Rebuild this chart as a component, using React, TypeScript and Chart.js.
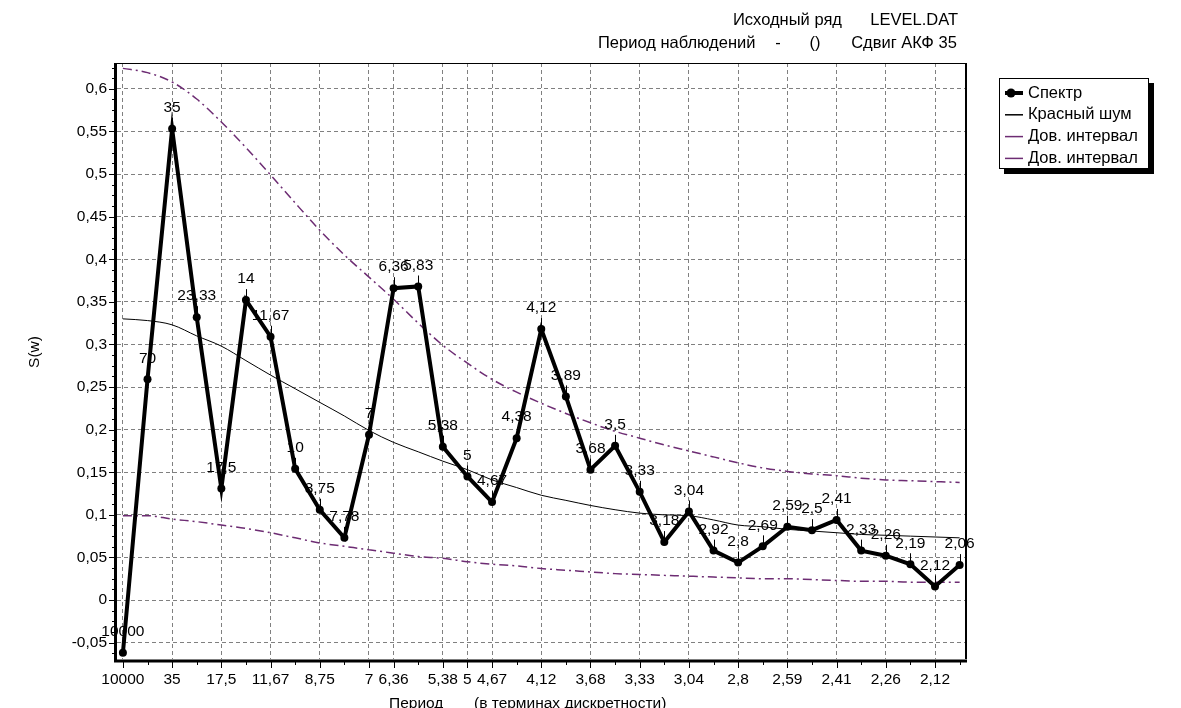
import { useEffect, useRef } from 'react';
import { Chart, registerables } from 'chart.js';

Chart.register(...registerables);

// Periods (in sampling steps) for each spectral estimate, k = 0..34
const periods = [
  '10000', '70', '35', '23,33', '17,5', '14', '11,67', '10', '8,75', '7,78',
  '7', '6,36', '5,83', '5,38', '5', '4,67', '4,38', '4,12', '3,89', '3,68',
  '3,5', '3,33', '3,18', '3,04', '2,92', '2,8', '2,69', '2,59', '2,5', '2,41',
  '2,33', '2,26', '2,19', '2,12', '2,06',
];

// Indices of the periods that get a label and a grid line on the x axis
const labeledTicks = [0, 2, 4, 6, 8, 10, 11, 13, 14, 15, 17, 19, 21, 23, 25, 27, 29, 31, 33];

// Spectral density S(w)
const spectrum = [
  -0.062, 0.259, 0.553, 0.332, 0.131, 0.352, 0.309, 0.154, 0.106, 0.073,
  0.194, 0.366, 0.368, 0.180, 0.145, 0.115, 0.190, 0.318, 0.239, 0.153,
  0.181, 0.127, 0.068, 0.104, 0.058, 0.044, 0.063, 0.086, 0.082, 0.094,
  0.058, 0.052, 0.042, 0.016, 0.041,
];

// Red-noise reference spectrum
const redNoise = [
  0.330, 0.328, 0.323, 0.310, 0.298, 0.281, 0.264, 0.248, 0.232, 0.216,
  0.199, 0.185, 0.174, 0.163, 0.153, 0.141, 0.132, 0.123, 0.117, 0.111,
  0.106, 0.102, 0.100, 0.099, 0.094, 0.088, 0.086, 0.083, 0.081, 0.079,
  0.077, 0.076, 0.075, 0.074, 0.073,
];

// Confidence interval bounds
const upperBound = [
  0.624, 0.619, 0.608, 0.588, 0.561, 0.531, 0.499, 0.466, 0.434, 0.405,
  0.379, 0.353, 0.325, 0.299, 0.278, 0.259, 0.244, 0.231, 0.219, 0.208,
  0.198, 0.190, 0.182, 0.175, 0.168, 0.161, 0.155, 0.151, 0.148, 0.146,
  0.143, 0.141, 0.140, 0.139, 0.138,
];
const lowerBound = [
  0.099, 0.099, 0.095, 0.092, 0.088, 0.084, 0.079, 0.073, 0.067, 0.063,
  0.059, 0.055, 0.051, 0.049, 0.045, 0.042, 0.040, 0.037, 0.035, 0.033,
  0.031, 0.030, 0.029, 0.028, 0.027, 0.026, 0.025, 0.025, 0.024, 0.023,
  0.022, 0.022, 0.021, 0.021, 0.021,
];

const yTicks = [-0.05, 0, 0.05, 0.1, 0.15, 0.2, 0.25, 0.3, 0.35, 0.4, 0.45, 0.5, 0.55, 0.6];

const legendLabels = ['Спектр', 'Красный шум', 'Дов. интервал', 'Дов. интервал'];
const headerLine1 = ['Исходный ряд', 'LEVEL.DAT'];
const headerLine2 = ['Период наблюдений', '-', '()', 'Сдвиг АКФ 35'];
const yTitle = 'S(w)';
const xTitle = ['Период', '(в терминах дискретности)'];

const FONT_FAMILY = "'Liberation Sans', Arial, sans-serif";
const FONT_SIZE = 15.5;
const FONT = `${FONT_SIZE}px ${FONT_FAMILY}`;
const TEXT_FONT = `16.5px ${FONT_FAMILY}`;
const GRID = '#808080';
const PURPLE = '#6d2c73';

const fmt = (v: number) =>
  Number(v).toFixed(2).replace(/0+$/, '').replace(/\.$/, '').replace('.', ',');

const toPoints = (arr: number[]) => arr.map((y, i) => ({ x: i, y }));

const decorPlugin = {
  id: 'decor',
  afterDatasetsDraw(chart: any) {
    const { ctx } = chart;
    const meta = chart.getDatasetMeta(0);
    ctx.save();
    ctx.font = FONT;
    ctx.fillStyle = '#000';
    ctx.strokeStyle = '#000';
    ctx.lineWidth = 1;
    ctx.textAlign = 'center';
    ctx.textBaseline = 'middle';
    meta.data.forEach((pt: any, i: number) => {
      const { x, y } = pt.getProps(['x', 'y'], true);
      ctx.beginPath();
      ctx.moveTo(Math.round(x) + 0.5, y);
      ctx.lineTo(Math.round(x) + 0.5, y - 11);
      ctx.stroke();
      ctx.fillText(periods[i], x, y - 21);
    });
    ctx.restore();
  },
  afterDraw(chart: any) {
    const { ctx, chartArea: a, scales } = chart;
    const xs = scales.x;
    const ys = scales.y;
    ctx.save();

    // plot frame
    ctx.strokeStyle = '#000';
    ctx.lineWidth = 1;
    ctx.beginPath();
    ctx.moveTo(a.left, a.top + 0.5);
    ctx.lineTo(a.right, a.top + 0.5);
    ctx.stroke();
    ctx.lineWidth = 2;
    ctx.beginPath();
    ctx.moveTo(a.right - 1, a.top);
    ctx.lineTo(a.right - 1, a.bottom);
    ctx.stroke();
    ctx.lineWidth = 3;
    ctx.beginPath();
    ctx.moveTo(a.left - 1.5, a.top);
    ctx.lineTo(a.left - 1.5, a.bottom + 2);
    ctx.lineTo(a.right, a.bottom + 2);
    ctx.stroke();

    // x tick marks: long at labelled periods, short elsewhere
    ctx.lineWidth = 1;
    for (let i = 0; i < periods.length; i++) {
      const px = Math.round(xs.getPixelForValue(i)) + 0.5;
      const len = labeledTicks.includes(i) ? 6 : 3;
      ctx.beginPath();
      ctx.moveTo(px, a.bottom + 3);
      ctx.lineTo(px, a.bottom + 3 + len);
      ctx.stroke();
    }
    // y tick marks: major every 0.05, three minor between
    for (let k = -5; k <= 50; k++) {
      const v = k * 0.0125;
      const py = ys.getPixelForValue(v);
      if (py < a.top + 1 || py > a.bottom - 1) continue;
      const len = k % 4 === 0 ? 5 : 2;
      const yy = Math.round(py) + 0.5;
      ctx.beginPath();
      ctx.moveTo(a.left - 3, yy);
      ctx.lineTo(a.left - 3 - len, yy);
      ctx.stroke();
    }

    ctx.fillStyle = '#000';
    ctx.textBaseline = 'middle';

    // header
    ctx.font = TEXT_FONT;
    ctx.textAlign = 'left';
    ctx.fillText(headerLine1[0], 733, 20);
    ctx.textAlign = 'right';
    ctx.fillText(headerLine1[1], 958, 20);
    ctx.textAlign = 'left';
    ctx.fillText(headerLine2[0], 598, 43);
    ctx.textAlign = 'center';
    ctx.fillText(headerLine2[1], 778, 43);
    ctx.fillText(headerLine2[2], 815, 43);
    ctx.fillText(headerLine2[3], 904, 43);

    // axis titles
    ctx.font = FONT;
    ctx.textAlign = 'left';
    ctx.fillText(xTitle[0], 389, 704);
    ctx.fillText(xTitle[1], 474, 704);
    ctx.save();
    ctx.translate(35, 352);
    ctx.rotate(-Math.PI / 2);
    ctx.textAlign = 'center';
    ctx.fillText(yTitle, 0, 0);
    ctx.restore();

    // legend box with shadow
    const lx = 999, ly = 78, lw = 149, lh = 90;
    ctx.fillStyle = '#000';
    ctx.fillRect(lx + 5, ly + 5, lw + 1, lh + 1);
    ctx.fillStyle = '#fff';
    ctx.fillRect(lx, ly, lw, lh);
    ctx.strokeStyle = '#000';
    ctx.lineWidth = 1;
    ctx.strokeRect(lx + 0.5, ly + 0.5, lw, lh);

    ctx.font = TEXT_FONT;
    const colors = ['#000', '#000', PURPLE, PURPLE];
    legendLabels.forEach((label, i) => {
      const cy = 93 + i * 21.8;
      ctx.strokeStyle = colors[i];
      ctx.lineWidth = i === 0 ? 4 : 1.5;
      ctx.beginPath();
      ctx.moveTo(1005, cy);
      ctx.lineTo(1023, cy);
      ctx.stroke();
      if (i === 0) {
        ctx.fillStyle = '#000';
        ctx.beginPath();
        ctx.arc(1011, cy, 4.5, 0, Math.PI * 2);
        ctx.fill();
      }
      ctx.fillStyle = '#000';
      ctx.textAlign = 'left';
      ctx.fillText(label, 1028, cy);
    });

    ctx.restore();
  },
};

export default function App() {
  const ref = useRef<HTMLCanvasElement>(null);

  useEffect(() => {
    const canvas = ref.current;
    if (!canvas) return;
    const tickFont = { family: FONT_FAMILY, size: FONT_SIZE };
    const chart = new Chart(canvas, {
      type: 'line',
      data: {
        datasets: [
          {
            label: legendLabels[0],
            data: toPoints(spectrum),
            borderColor: '#000',
            backgroundColor: '#000',
            borderWidth: 4,
            pointRadius: 4,
            pointBorderWidth: 0,
            pointBackgroundColor: '#000',
            tension: 0,
          },
          {
            label: legendLabels[1],
            data: toPoints(redNoise),
            borderColor: '#000',
            borderWidth: 1,
            pointRadius: 0,
            cubicInterpolationMode: 'monotone',
          },
          {
            label: legendLabels[2],
            data: toPoints(upperBound),
            borderColor: PURPLE,
            borderWidth: 1.5,
            borderDash: [9, 4, 2, 4],
            pointRadius: 0,
            cubicInterpolationMode: 'monotone',
          },
          {
            label: legendLabels[3],
            data: toPoints(lowerBound),
            borderColor: PURPLE,
            borderWidth: 1.5,
            borderDash: [9, 4, 2, 4],
            pointRadius: 0,
            cubicInterpolationMode: 'monotone',
          },
        ],
      },
      options: {
        responsive: false,
        animation: false,
        devicePixelRatio: 1,
        layout: { padding: { left: 0, top: 63, right: 214, bottom: 0 } },
        plugins: {
          legend: { display: false },
          title: { display: false },
          tooltip: { enabled: false },
        },
        scales: {
          x: {
            type: 'linear',
            position: 'bottom',
            min: -0.24,
            max: 34.3,
            afterFit: (s: any) => {
              s.height = 49;
            },
            afterBuildTicks: (s: any) => {
              s.ticks = periods.map((_, i) => ({ value: i }));
            },
            border: { display: false, dash: [4, 3] },
            grid: {
              drawTicks: false,
              color: (c: any) =>
                c.tick && labeledTicks.includes(c.tick.value) ? GRID : 'rgba(0,0,0,0)',
              lineWidth: 1,
            },
            ticks: {
              autoSkip: false,
              maxRotation: 0,
              minRotation: 0,
              padding: 11,
              color: '#000',
              font: tickFont,
              callback: (v: any) => {
                const i = Math.round(Number(v));
                return labeledTicks.includes(i) ? periods[i] : '';
              },
            },
          },
          y: {
            type: 'linear',
            min: -0.0692,
            max: 0.6303,
            afterFit: (s: any) => {
              s.width = 117;
            },
            afterBuildTicks: (s: any) => {
              s.ticks = yTicks.map((v) => ({ value: v }));
            },
            border: { display: false, dash: [4, 3] },
            grid: {
              drawTicks: false,
              color: GRID,
              lineWidth: 1,
            },
            ticks: {
              padding: 10,
              color: '#000',
              font: tickFont,
              callback: (v: any) => fmt(Number(v)),
            },
          },
        },
      },
      plugins: [decorPlugin],
    } as any);
    return () => chart.destroy();
  }, []);

  return (
    <div
      style={{
        position: 'absolute',
        left: 0,
        top: 0,
        width: 1181,
        height: 708,
        background: '#fff',
        overflow: 'hidden',
      }}
    >
      <canvas
        ref={ref}
        width={1181}
        height={708}
        style={{ display: 'block', width: 1181, height: 708 }}
      />
    </div>
  );
}
